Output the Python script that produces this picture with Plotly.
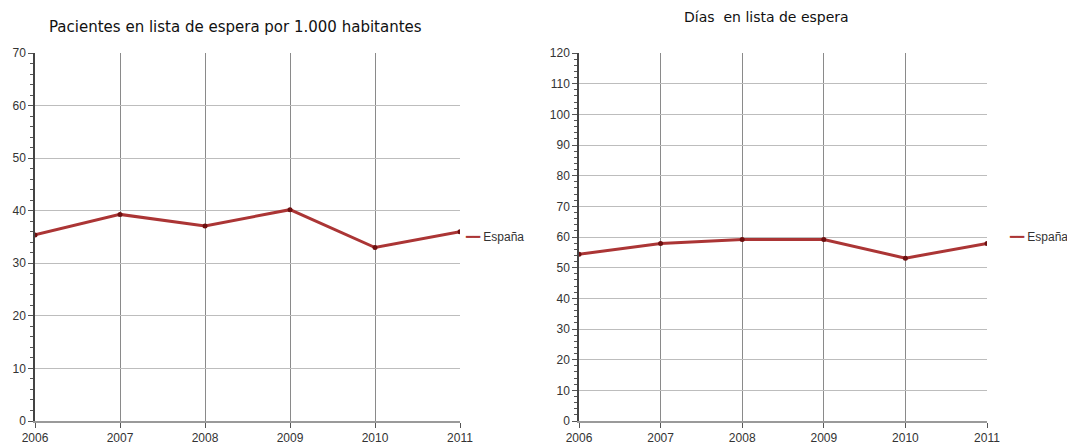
import plotly.graph_objects as go

years = [2006, 2007, 2008, 2009, 2010, 2011]
pacientes = [35.4, 39.3, 37.1, 40.2, 33.0, 36.0]
dias = [54.4, 57.9, 59.2, 59.2, 53.1, 57.9]
series_name = "España"
title_left = "Pacientes en lista de espera por 1.000 habitantes"
title_right = "Días\u00a0 en lista de espera"

# the page body adds an 8px offset; the figure is sized / placed to compensate
OFF = 8
W, H = 1075 - OFF, 447 - OFF
LINE = "#ab3535"
MARK = "#6e1010"
TICKFONT = dict(family="Liberation Sans, Arial", size=12, color="#333333")


def px(x):
    return (x - OFF) / W


def py(y):
    return (H - (y - OFF)) / H


fig = go.Figure()
fig.add_trace(go.Scatter(x=years, y=pacientes, mode="lines+markers", name=series_name,
                         line=dict(color=LINE, width=3), marker=dict(color=MARK, size=5),
                         xaxis="x", yaxis="y", showlegend=False))
fig.add_trace(go.Scatter(x=years, y=dias, mode="lines+markers", name=series_name,
                         line=dict(color=LINE, width=3), marker=dict(color=MARK, size=5),
                         xaxis="x2", yaxis="y2", showlegend=False))


def xax(domain, anchor):
    return dict(domain=domain, anchor=anchor, range=[2006, 2011], tickmode="array",
                tickvals=years, ticktext=[str(y) for y in years], showgrid=True,
                gridcolor="#8a8a8a", gridwidth=1, showline=True, linecolor="#9a9a9a",
                linewidth=1.5, ticks="outside", ticklen=5, tickcolor="#555555",
                tickfont=TICKFONT, zeroline=False, automargin=False)


def yax(domain, anchor, top):
    return dict(domain=domain, anchor=anchor, range=[0, top], dtick=10, showgrid=True,
                gridcolor="#bdbdbd", gridwidth=1.2, showline=True, linecolor="#444444",
                linewidth=1.5, ticks="outside", ticklen=5, tickcolor="#555555",
                tickfont=TICKFONT, zeroline=False, automargin=False,
                minor=dict(dtick=2, ticks="outside", ticklen=3, tickcolor="#555555", showgrid=False))


ydom = [py(421), py(53)]
LEGFONT = dict(family="Liberation Sans, Arial", size=12, color="#333333")
legend_text = ('<span style="color:%s">━━</span> %s' % (LINE, series_name))
fig.update_layout(
    width=W, height=H, margin=dict(l=0, r=0, t=0, b=0, autoexpand=False),
    paper_bgcolor="white", plot_bgcolor="white", showlegend=False,
    xaxis=xax([px(35), px(460)], "y"),
    yaxis=yax(ydom, "x", 70),
    xaxis2=xax([px(579), px(987)], "y2"),
    yaxis2=yax(ydom, "x2", 120),
    annotations=[
        dict(text=title_left, x=px(235), y=py(27), xref="paper", yref="paper",
             showarrow=False, xanchor="center", yanchor="middle",
             font=dict(family="DejaVu Sans, Verdana", size=15, color="#111111")),
        dict(text=title_right, x=px(766), y=py(17), xref="paper", yref="paper",
             showarrow=False, xanchor="center", yanchor="middle",
             font=dict(family="DejaVu Sans, Verdana", size=14, color="#111111")),
        dict(text=legend_text, x=px(463), y=py(237), xref="paper", yref="paper",
             showarrow=False, xanchor="left", yanchor="middle", font=LEGFONT),
        dict(text=legend_text, x=px(1007), y=py(237), xref="paper", yref="paper",
             showarrow=False, xanchor="left", yanchor="middle", font=LEGFONT),
    ],
)

fig.write_html("out.html")
